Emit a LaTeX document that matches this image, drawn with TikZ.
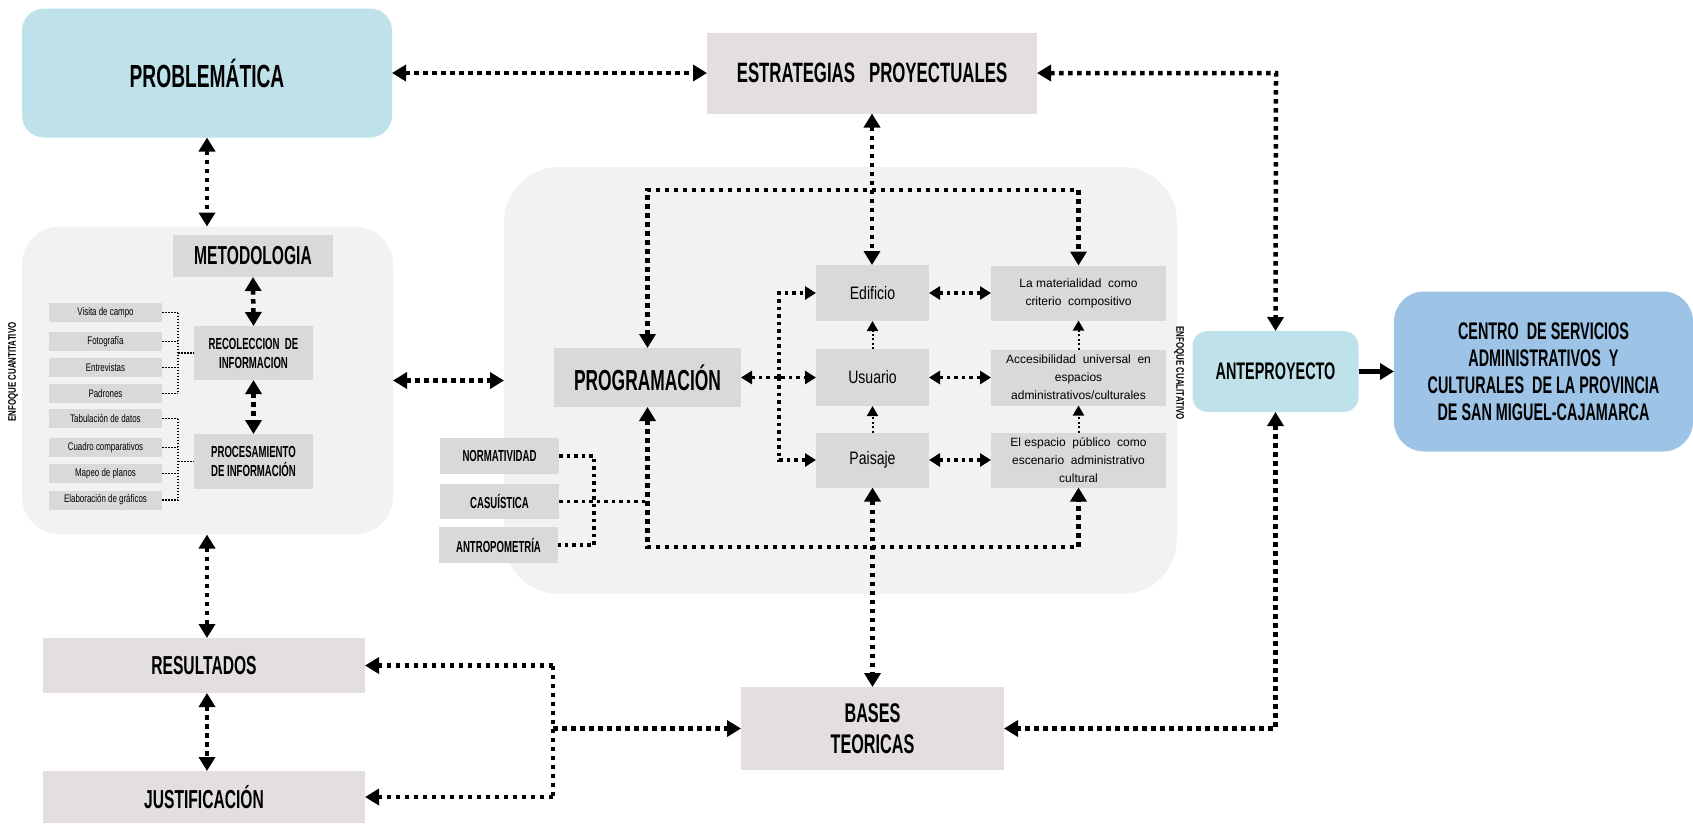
\documentclass[tikz,border=0pt]{standalone}
\usepackage{fontspec}
\setmainfont{Liberation Sans}[FakeStretch=0.6]
\newfontfamily\lcn{Liberation Sans}[FakeStretch=0.78]
\newfontfamily\lcs{Liberation Sans}[FakeStretch=0.72]
\newfontfamily\lcw{Liberation Sans}
\newfontfamily\vlab{Liberation Sans}[FakeStretch=0.72]
\usetikzlibrary{arrows.meta}
\definecolor{cyanbox}{HTML}{BFE2EA}
\definecolor{bluebox}{HTML}{9DC3E6}
\definecolor{lavbox}{HTML}{E2DEE2}
\definecolor{greybox}{HTML}{D9D9D9}
\definecolor{groupbg}{HTML}{F2F2F2}
\begin{document}
\begin{tikzpicture}[x=1pt,y=-1pt,
  every node/.style={inner sep=0pt, outer sep=0pt, align=center, text=black},
  sz/.style 2 args={minimum width=#1pt, minimum height=#2pt},
  grp/.style={fill=groupbg, rounded corners=#1},
  gbox/.style={fill=greybox},
  lbox/.style={fill=lavbox},
  smallbox/.style={fill=greybox, sz={113}{19}, font=\lcs\fontsize{11}{13}\selectfont},
  vlabel/.style={font=\vlab\bfseries\fontsize{11}{11}\selectfont},
  bigdot/.style={line width=4.5pt, dash pattern=on 4.5pt off 4.5pt, >={Triangle[length=14pt,width=16pt]}},
  middot/.style={line width=3.5pt, dash pattern=on 3.5pt off 4pt, >={Triangle[length=11pt,width=13pt]}},
  thindot/.style={line width=2pt, dash pattern=on 2pt off 2.5pt, >={Triangle[length=10pt,width=11pt]}},
  tinydot/.style={line width=1.3pt, dash pattern=on 1.5pt off 1.5pt},
  solidarrow/.style={line width=5pt, -{Triangle[length=14pt,width=16pt]}}
]
\useasboundingbox (0,0) rectangle (1693,823);

% groups
\node[grp=38pt, sz={371}{308}] (gleft) at (207.5,380.5) {};
\node[grp=55pt, sz={673}{427}] (gmid) at (840.5,380.5) {};

% top boxes
\node[fill=cyanbox, rounded corners=22pt, sz={370}{129}, font=\bfseries\fontsize{32}{36}\selectfont] (prob) at (207,73) {PROBLEMÁTICA};
\node[lbox, sz={330}{81}, font=\bfseries\fontsize{28}{32}\selectfont] (estr) at (872,73) {ESTRATEGIAS\hspace{14pt}PROYECTUALES};

% left group
\node[gbox, sz={160}{42}, font=\bfseries\fontsize{26}{30}\selectfont] (meto) at (253,256) {METODOLOGIA};
\node[gbox, sz={119}{54}, font=\bfseries\fontsize{16}{19}\selectfont] (reco) at (253.5,353) {RECOLECCION\ \ DE\\INFORMACION};
\node[gbox, sz={119}{55}, font=\bfseries\fontsize{16}{19}\selectfont] (proc) at (253.5,461.5) {PROCESAMIENTO\\DE INFORMACIÓN};
\node[smallbox] (s1) at (105.5,312.5) {Visita de campo};
\node[smallbox] (s2) at (105.5,341.5) {Fotografía};
\node[smallbox] (s3) at (105.5,367.5) {Entrevistas};
\node[smallbox] (s4) at (105.5,393.5) {Padrones};
\node[smallbox] (s5) at (105.5,418.5) {Tabulación de datos};
\node[smallbox] (s6) at (105.5,447.5) {Cuadro comparativos};
\node[smallbox] (s7) at (105.5,473.5) {Mapeo de planos};
\node[smallbox] (s8) at (105.5,500) {Elaboración de gráficos};
\node[vlabel, rotate=90] (lq) at (13,372) {ENFOQUE CUANTITATIVO};

% middle group
\node[gbox, sz={187}{59}, font=\bfseries\fontsize{29}{32}\selectfont] (prog) at (647.5,377.5) {PROGRAMACIÓN};
\node[gbox, sz={113}{56}, font=\lcn\fontsize{18}{20}\selectfont] (edif) at (872.5,293) {Edificio};
\node[gbox, sz={113}{57}, font=\lcn\fontsize{18}{20}\selectfont] (usu) at (872.5,377.5) {Usuario};
\node[gbox, sz={113}{55}, font=\lcn\fontsize{18}{20}\selectfont] (pais) at (872.5,460) {Paisaje};
\node[gbox, sz={175}{55}, font=\lcw\fontsize{12}{18}\selectfont] (mat) at (1078.5,293) {La materialidad\ \ como\\criterio\ \ compositivo};
\node[gbox, sz={175}{56}, font=\lcw\fontsize{12}{18}\selectfont] (acc) at (1078.5,377.5) {Accesibilidad\ \ universal\ \ en\\espacios\\administrativos/culturales};
\node[gbox, sz={175}{55}, font=\lcw\fontsize{12}{18}\selectfont] (esp) at (1078.5,460) {El espacio\ \ público\ \ como\\escenario\ \ administrativo\\cultural};
\node[gbox, sz={119}{36}, font=\bfseries\fontsize{16}{18}\selectfont] (norm) at (499.5,456) {NORMATIVIDAD};
\node[gbox, sz={119}{35}, font=\bfseries\fontsize{16}{18}\selectfont] (casu) at (499.5,501.5) {CASUÍSTICA};
\node[gbox, sz={119}{36}, font=\bfseries\fontsize{16}{18}\selectfont] (antro) at (498.5,545) {ANTROPOMETRÍA};
\node[vlabel, rotate=-90] (lc) at (1179,373) {ENFOQUE CUALITATIVO};

% right
\node[fill=cyanbox, rounded corners=15pt, sz={166}{81}, font=\bfseries\fontsize{24}{28}\selectfont] (ante) at (1275.5,371.5) {ANTEPROYECTO};
\node[fill=bluebox, rounded corners=30pt, sz={299}{160}, font=\bfseries\fontsize{24}{27}\selectfont] (cent) at (1543.5,371.5) {CENTRO\ \ DE SERVICIOS\\ADMINISTRATIVOS\ \ Y\\CULTURALES\ \ DE LA PROVINCIA\\DE SAN MIGUEL-CAJAMARCA};

% bottom
\node[lbox, sz={263}{83}, font=\bfseries\fontsize{27}{31}\selectfont] (bases) at (872.5,728.5) {BASES\\TEORICAS};
\node[lbox, sz={322}{55}, font=\bfseries\fontsize{26}{30}\selectfont] (res) at (204,665.5) {RESULTADOS};
\node[lbox, sz={322}{52}, font=\bfseries\fontsize{26}{30}\selectfont] (just) at (204,797) {JUSTIFICACIÓN};

% helper coordinates
\coordinate (bx) at (178,0);
\coordinate (nb) at (594,0);
\coordinate (vb) at (779,377.5);
\coordinate (tl) at (0,190);
\coordinate (bl) at (0,547);
\coordinate (rb) at (553,0);
\coordinate (ex) at (1276,73);

% connectors
\draw[bigdot,<->] (prob.east) -- (estr.west);
\draw[bigdot,<->] (estr.east) -- (ex) -- (ante.north);
\draw[bigdot,<->] (prob.south) -- (prob.south |- gleft.north);
\draw[bigdot,<->] (gleft.south -| prob.south) -- (prob.south |- res.north);
\draw[bigdot,<->] (prob.south |- res.south) -- (prob.south |- just.north);
\draw[bigdot,<->] (meto.south) -- (reco.north);
\draw[bigdot,<->] (reco.south) -- (proc.north);
\draw[bigdot,<->] (gleft.east) -- (gmid.west);

% small-box buses
\foreach \s in {s1,s2,s3,s4,s5,s6,s7,s8} {\draw[tinydot] (\s.east) -- (\s.east -| bx);}
\draw[tinydot] (s1.east -| bx) -- (s4.east -| bx);
\draw[tinydot] (reco.west -| bx) -- (reco.west);
\draw[tinydot] (s5.east -| bx) -- (s8.east -| bx);
\draw[tinydot] (proc.west -| bx) -- (proc.west);

% middle connectors
\draw[bigdot,<->] (estr.south) -- (estr.south |- edif.north);
\draw[bigdot,<->] (prog.north) -- (prog.north |- tl) -- (mat.north |- tl) -- (mat.north);
\draw[bigdot,<->] (prog.south) -- (prog.south |- bl) -- (esp.south |- bl) -- (esp.south);
\draw[bigdot,<->] (pais.south) -- (pais.south |- bases.north);
\draw[middot] (norm.east) -- (norm.east -| nb) -- (antro.east -| nb) -- (antro.east);
\draw[middot] (casu.east) -- (casu.east -| prog.south);
\draw[middot,<->] (prog.east) -- (usu.west);
\draw[middot,->] (vb) -- (vb |- edif.west) -- (edif.west);
\draw[middot,->] (vb) -- (vb |- pais.west) -- (pais.west);
\draw[middot,<->] (edif.east) -- (mat.west);
\draw[middot,<->] (usu.east) -- (acc.west);
\draw[middot,<->] (pais.east) -- (esp.west);
\draw[thindot,->] (usu.north) -- (edif.south);
\draw[thindot,->] (pais.north) -- (usu.south);
\draw[thindot,->] (acc.north) -- (mat.south);
\draw[thindot,->] (esp.north) -- (acc.south);

% right and bottom connectors
\draw[solidarrow] (ante.east) -- (cent.west);
\draw[bigdot,<->] (ante.south) -- (ante.south |- bases.east) -- (bases.east);
\draw[bigdot,->] (rb |- bases.west) -- (bases.west);
\draw[bigdot,->] (rb |- res.east) -- (res.east);
\draw[bigdot,->] (rb |- just.east) -- (just.east);
\draw[bigdot] (rb |- res.east) -- (rb |- just.east);
\end{tikzpicture}
\end{document}
